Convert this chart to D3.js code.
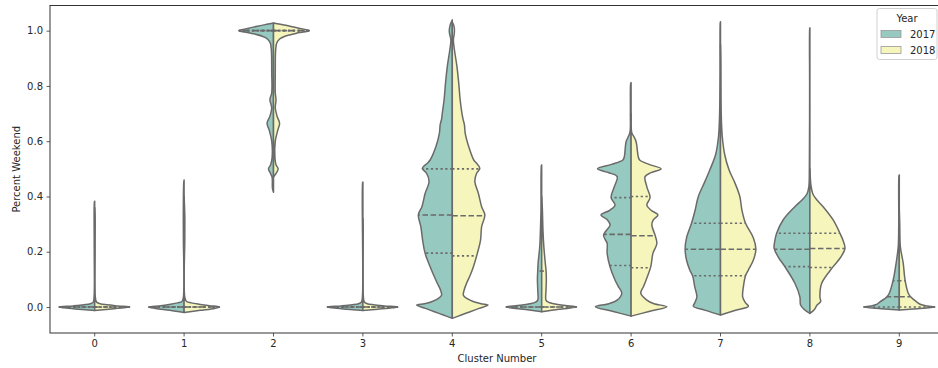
<!DOCTYPE html>
<html>
<head>
<meta charset="utf-8">
<script src="https://cdn.jsdelivr.net/npm/d3@7"></script>
<style>
  body { margin: 0; background: #fff; }
  svg text { font-family: "DejaVu Sans", sans-serif; fill: #262626; }
</style>
</head>
<body>
<div id="chart"></div>
<script>
// categories
const clusters = ["0", "1", "2", "3", "4", "5", "6", "7", "8", "9"];
const years = ["2017", "2018"];
const yTicks = [0, 0.2, 0.4, 0.6, 0.8, 1.0];

// violin outlines: [percent weekend, relative density]
const profile2017 = [
  [[-0.013,0],[-0.008,0.45],[-0.003,0.85],[0,1.0],[0.004,0.6],[0.008,0.3],[0.012,0.12],[0.018,0.04],[0.04,0.015],[0.2,0.012],[0.33,0.016],[0.38,0.008],[0.383,0]],
  [[-0.02,0],[-0.012,0.4],[-0.005,0.8],[0,0.99],[0.005,0.65],[0.01,0.38],[0.015,0.18],[0.02,0.06],[0.035,0.02],[0.25,0.02],[0.33,0.022],[0.45,0.01],[0.46,0]],
  [[0.415,0],[0.43,0.03],[0.47,0.04],[0.485,0.09],[0.5,0.14],[0.515,0.08],[0.54,0.04],[0.6,0.05],[0.64,0.12],[0.665,0.18],[0.69,0.1],[0.72,0.05],[0.75,0.1],[0.775,0.05],[0.85,0.05],[0.93,0.06],[0.955,0.09],[0.97,0.17],[0.98,0.32],[0.99,0.6],[1.0,0.97],[1.008,0.72],[1.016,0.45],[1.024,0.15],[1.028,0]],
  [[-0.013,0],[-0.008,0.45],[-0.003,0.85],[0,1.0],[0.004,0.6],[0.008,0.3],[0.012,0.12],[0.018,0.04],[0.04,0.012],[0.45,0.008],[0.452,0]],
  [[-0.041,0],[-0.029,0.25],[-0.017,0.5],[-0.005,0.75],[0.007,1.0],[0.012,0.78],[0.019,0.58],[0.03,0.4],[0.043,0.3],[0.065,0.34],[0.086,0.42],[0.115,0.52],[0.146,0.62],[0.194,0.76],[0.242,0.83],[0.291,0.88],[0.333,0.95],[0.363,0.85],[0.411,0.76],[0.454,0.65],[0.484,0.72],[0.502,0.84],[0.52,0.7],[0.532,0.62],[0.58,0.46],[0.629,0.36],[0.659,0.34],[0.68,0.3],[0.701,0.28],[0.749,0.23],[0.81,0.19],[0.87,0.14],[0.93,0.07],[0.966,0.04],[0.985,0.07],[1.0,0.085],[1.02,0.06],[1.033,0.02],[1.039,0]],
  [[-0.017,0],[-0.008,0.5],[0,1.0],[0.006,0.6],[0.012,0.33],[0.018,0.17],[0.025,0.11],[0.06,0.11],[0.098,0.12],[0.134,0.11],[0.159,0.1],[0.218,0.055],[0.279,0.035],[0.35,0.02],[0.51,0.01],[0.514,0]],
  [[-0.033,0],[-0.016,0.5],[0.001,1.0],[0.012,0.62],[0.025,0.39],[0.05,0.26],[0.075,0.36],[0.098,0.45],[0.146,0.59],[0.194,0.67],[0.23,0.67],[0.26,0.77],[0.297,0.59],[0.315,0.66],[0.333,0.84],[0.35,0.6],[0.369,0.45],[0.396,0.56],[0.435,0.47],[0.472,0.39],[0.486,0.62],[0.5,0.94],[0.516,0.55],[0.532,0.23],[0.544,0.19],[0.598,0.14],[0.616,0.08],[0.634,0.03],[0.7,0.02],[0.81,0.01],[0.812,0]],
  [[-0.029,0],[-0.012,0.42],[0.003,0.76],[0.015,0.72],[0.037,0.66],[0.073,0.72],[0.113,0.78],[0.134,0.86],[0.17,0.95],[0.209,0.99],[0.25,0.95],[0.303,0.81],[0.35,0.71],[0.4,0.62],[0.45,0.45],[0.496,0.3],[0.55,0.14],[0.616,0.056],[0.7,0.025],[0.85,0.012],[1.03,0.006],[1.032,0]],
  [[-0.023,0],[-0.01,0.15],[0.007,0.26],[0.037,0.28],[0.086,0.42],[0.146,0.7],[0.18,0.88],[0.212,1.0],[0.24,0.98],[0.267,0.93],[0.315,0.75],[0.363,0.42],[0.39,0.2],[0.41,0.08],[0.435,0.03],[0.5,0.015],[0.8,0.008],[1.008,0.005],[1.01,0]],
  [[-0.011,0],[-0.006,0.5],[0,1.0],[0.004,0.8],[0.009,0.64],[0.019,0.54],[0.035,0.36],[0.05,0.28],[0.098,0.17],[0.158,0.09],[0.218,0.03],[0.3,0.015],[0.476,0.008],[0.478,0]]
];
const profile2018 = [
  [[-0.013,0],[-0.008,0.4],[-0.003,0.8],[0,0.98],[0.004,0.65],[0.008,0.35],[0.012,0.15],[0.018,0.05],[0.04,0.015],[0.2,0.01],[0.33,0.012],[0.36,0]],
  [[-0.02,0],[-0.012,0.45],[-0.005,0.85],[0,0.99],[0.005,0.7],[0.01,0.42],[0.015,0.2],[0.02,0.07],[0.035,0.02],[0.25,0.02],[0.33,0.02],[0.4,0]],
  [[0.47,0],[0.485,0.08],[0.5,0.13],[0.515,0.07],[0.54,0.04],[0.6,0.05],[0.64,0.12],[0.665,0.17],[0.69,0.1],[0.72,0.05],[0.75,0.07],[0.775,0.05],[0.85,0.05],[0.93,0.06],[0.955,0.09],[0.97,0.17],[0.98,0.32],[0.99,0.62],[1.0,1.0],[1.008,0.74],[1.016,0.46],[1.024,0.15],[1.028,0]],
  [[-0.013,0],[-0.008,0.42],[-0.003,0.82],[0,0.98],[0.004,0.6],[0.008,0.3],[0.012,0.12],[0.018,0.04],[0.04,0.012],[0.3,0.008],[0.32,0]],
  [[-0.041,0],[-0.029,0.25],[-0.017,0.5],[-0.005,0.75],[0.007,1.0],[0.012,0.8],[0.019,0.6],[0.03,0.42],[0.043,0.31],[0.065,0.34],[0.086,0.4],[0.115,0.5],[0.146,0.59],[0.194,0.7],[0.242,0.79],[0.291,0.82],[0.333,0.91],[0.363,0.82],[0.411,0.73],[0.454,0.63],[0.484,0.68],[0.502,0.77],[0.52,0.68],[0.532,0.6],[0.58,0.46],[0.629,0.36],[0.659,0.34],[0.68,0.3],[0.701,0.27],[0.749,0.22],[0.81,0.18],[0.87,0.13],[0.93,0.06],[0.966,0.03],[0.985,0.05],[1.0,0.06],[1.02,0.04],[1.03,0]],
  [[-0.017,0],[-0.008,0.48],[0,0.98],[0.006,0.6],[0.012,0.34],[0.018,0.18],[0.025,0.12],[0.06,0.12],[0.098,0.13],[0.134,0.12],[0.159,0.1],[0.218,0.06],[0.279,0.035],[0.35,0.02],[0.4,0]],
  [[-0.033,0],[-0.016,0.5],[0.001,1.0],[0.012,0.64],[0.025,0.44],[0.05,0.27],[0.075,0.35],[0.098,0.42],[0.146,0.55],[0.194,0.61],[0.23,0.72],[0.26,0.67],[0.297,0.58],[0.315,0.62],[0.333,0.75],[0.35,0.56],[0.369,0.44],[0.396,0.53],[0.435,0.44],[0.472,0.39],[0.486,0.56],[0.5,0.84],[0.516,0.5],[0.532,0.24],[0.544,0.2],[0.598,0.14],[0.616,0.08],[0.63,0.02],[0.7,0]],
  [[-0.029,0],[-0.012,0.42],[0.003,0.78],[0.015,0.7],[0.037,0.62],[0.073,0.64],[0.113,0.7],[0.134,0.78],[0.17,0.92],[0.209,0.99],[0.25,0.92],[0.303,0.7],[0.35,0.6],[0.4,0.54],[0.45,0.4],[0.496,0.24],[0.55,0.12],[0.616,0.05],[0.7,0.02],[0.9,0.008],[0.95,0]],
  [[-0.023,0],[-0.01,0.12],[0.007,0.2],[0.02,0.3],[0.037,0.28],[0.086,0.33],[0.146,0.65],[0.18,0.86],[0.212,0.98],[0.24,0.93],[0.267,0.84],[0.315,0.65],[0.363,0.37],[0.39,0.18],[0.41,0.08],[0.44,0.03],[0.5,0]],
  [[-0.011,0],[-0.006,0.5],[0,1.0],[0.004,0.78],[0.009,0.6],[0.019,0.48],[0.035,0.33],[0.05,0.25],[0.098,0.16],[0.158,0.11],[0.218,0.03],[0.3,0.012],[0.35,0]]
];

// [q1, median, q3] per cluster
const quartiles2017 = [[0,0,0],[0,0,0],[1,1,1],[0,0,0],[0.195,0.333,0.5],[0,0,0.13],[0.15,0.263,0.396],[0.113,0.209,0.303],[0.146,0.209,0.267],[0,0.037,0.095]];
const quartiles2018 = [[0,0,0],[0,0,0],[1,1,1],[0,0,0],[0.185,0.33,0.5],[0,0,0.13],[0.142,0.258,0.4],[0.113,0.209,0.303],[0.143,0.212,0.267],[0,0.037,0.095]];

const colors = ["#96cac1", "#f5f5bc"];
const gray = "#6a6a6a";

const width = 938, height = 368;
const plot = { left: 50, right: 944, top: 5.5, bottom: 333 };

const svg = d3.select("#chart").append("svg")
  .attr("width", width)
  .attr("height", height);

const x = d3.scaleBand().domain(clusters).range([plot.left, plot.right]);
const y = d3.scaleLinear().domain([-0.094, 1.091]).range([plot.bottom, plot.top]);
const w = d3.scaleLinear().domain([0, 1]).range([0, x.bandwidth() * 0.4]);

// width of a half violin at a given value, from its outline points
function halfWidth(prof, v) {
  for (let i = 0; i < prof.length - 1; i++) {
    const a = prof[i], b = prof[i + 1];
    if (v >= a[0] && v <= b[0]) {
      const t = b[0] === a[0] ? 0 : (v - a[0]) / (b[0] - a[0]);
      return a[1] + t * (b[1] - a[1]);
    }
  }
  return 0;
}

const violins = svg.append("g");

clusters.forEach((c, i) => {
  const cx = x(c) + x.bandwidth() / 2;
  [profile2017[i], profile2018[i]].forEach((prof, k) => {
    const side = k === 0 ? -1 : 1;
    const area = d3.area()
      .curve(d3.curveCatmullRom.alpha(0.5))
      .y(d => y(d[0]))
      .x0(cx)
      .x1(d => cx + side * w(d[1]));
    violins.append("path")
      .datum(prof)
      .attr("d", area)
      .attr("fill", colors[k])
      .attr("stroke", gray)
      .attr("stroke-width", 1.5)
      .attr("stroke-linejoin", "round");

    const q = (k === 0 ? quartiles2017 : quartiles2018)[i];
    q.forEach((v, j) => {
      violins.append("line")
        .attr("x1", cx)
        .attr("x2", cx + side * w(halfWidth(prof, v)))
        .attr("y1", y(v))
        .attr("y2", y(v))
        .attr("stroke", gray)
        .attr("stroke-width", 1.6)
        .attr("stroke-dasharray", j === 1 ? "5.5,2.6" : "2.2,2.6");
    });
  });
});

// axes
const yAxis = svg.append("g")
  .attr("transform", `translate(${plot.left},0)`)
  .call(d3.axisLeft(y).tickValues(yTicks).tickFormat(d3.format(".1f")).tickSize(3.5).tickPadding(3.5));
const xAxis = svg.append("g")
  .attr("transform", `translate(0,${plot.bottom})`)
  .call(d3.axisBottom(x).tickSize(3.5).tickPadding(3.5));
[yAxis, xAxis].forEach(g => {
  g.select(".domain").remove();
  g.selectAll(".tick line").attr("stroke", "#333").attr("stroke-width", 0.8);
  g.selectAll(".tick text").attr("font-size", 10).attr("fill", "#262626")
    .attr("font-family", "DejaVu Sans, sans-serif");
});

svg.append("rect")
  .attr("x", plot.left)
  .attr("y", plot.top)
  .attr("width", plot.right - plot.left)
  .attr("height", plot.bottom - plot.top)
  .attr("fill", "none")
  .attr("stroke", "#333")
  .attr("stroke-width", 1);

svg.append("text")
  .attr("x", (plot.left + plot.right) / 2)
  .attr("y", 362)
  .attr("text-anchor", "middle")
  .attr("font-size", 10)
  .text("Cluster Number");

svg.append("text")
  .attr("transform", `translate(19.5,${(plot.top + plot.bottom) / 2}) rotate(-90)`)
  .attr("text-anchor", "middle")
  .attr("font-size", 10)
  .text("Percent Weekend");

// legend
const legend = svg.append("g").attr("transform", "translate(877,8.5)");
legend.append("rect")
  .attr("width", 60).attr("height", 51)
  .attr("rx", 2.5)
  .attr("fill", "#fff").attr("fill-opacity", 0.8)
  .attr("stroke", "#d0d0d0").attr("stroke-width", 1);
legend.append("text")
  .attr("x", 30).attr("y", 13)
  .attr("text-anchor", "middle")
  .attr("font-size", 10)
  .text("Year");
years.forEach((yr, k) => {
  legend.append("rect")
    .attr("x", 4).attr("y", 22 + k * 16)
    .attr("width", 20).attr("height", 7)
    .attr("fill", colors[k])
    .attr("stroke", "#999").attr("stroke-width", 0.8);
  legend.append("text")
    .attr("x", 33).attr("y", 29 + k * 16)
    .attr("font-size", 10)
    .text(yr);
});
</script>
</body>
</html>
